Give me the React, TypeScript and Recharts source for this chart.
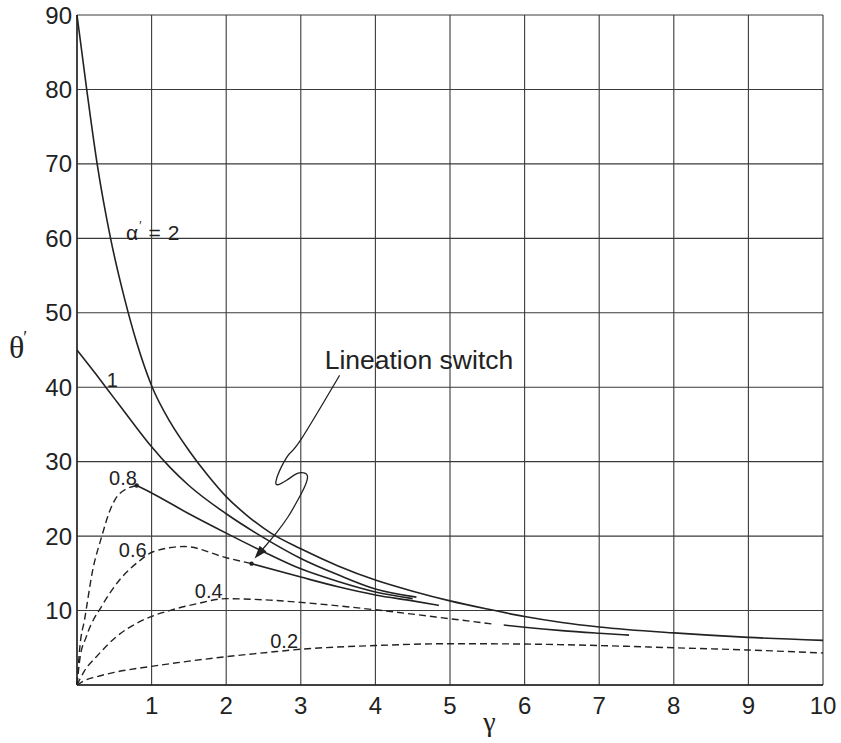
import React from 'react';
import { LineChart, Line, XAxis, YAxis, CartesianGrid, ReferenceDot } from 'recharts';

type Pt = [number, number];

// [gamma, theta'] pairs
const alpha2: Pt[] = [
  [0, 90], [0.13, 80], [0.27, 70], [0.45, 60], [0.64, 51.8], [0.8, 46.0], [1, 40.2],
  [1.25, 35.3], [1.5, 31.5], [1.75, 28.2], [2, 25.3], [2.3, 22.6], [2.6, 20.4], [3, 18.3],
  [3.5, 16.0], [4, 14.1], [4.5, 12.6], [5, 11.3], [5.5, 10.2], [6, 9.2], [6.5, 8.4],
  [7, 7.8], [8, 7.0], [9, 6.4], [10, 6.0],
];
const alpha1: Pt[] = [
  [0, 45], [0.25, 41.8], [0.5, 38.5], [0.75, 35.2], [1, 32.0], [1.25, 29.2], [1.5, 26.8],
  [2, 23.0], [2.5, 19.8], [3, 17.0], [3.5, 14.8], [4, 12.9], [4.55, 11.8],
];
const alpha08Dashed: Pt[] = [
  [0, 0], [0.04, 5.3], [0.1, 8.7], [0.21, 15.4], [0.33, 19.9], [0.44, 23.4], [0.57, 25.7],
  [0.8, 26.8],
];
const alpha08Solid: Pt[] = [
  [0.8, 26.8], [1, 25.8], [1.5, 23.0], [2, 20.4], [2.5, 17.9], [3, 15.6], [3.5, 13.9],
  [4, 12.5], [4.5, 11.6],
];
const alpha06Dashed: Pt[] = [
  [0, 0], [0.04, 3.6], [0.125, 6.5], [0.35, 10.9], [0.57, 14.1], [0.84, 16.7], [1.02, 17.9],
  [1.44, 18.6], [2, 17.1], [2.34, 16.3],
];
const alpha06Solid: Pt[] = [
  [2.34, 16.3], [3, 14.5], [3.5, 13.2], [4, 12.1], [4.5, 11.3], [4.85, 10.7],
];
const alpha04Dashed: Pt[] = [
  [0, 0], [0.1, 1.9], [0.26, 3.8], [0.53, 6.5], [0.84, 8.5], [1.05, 9.4], [1.24, 10.0],
  [1.6, 10.9], [2, 11.6], [2.58, 11.4], [3, 11.1], [4, 10.1], [5, 8.9], [5.6, 8.15],
];
const alpha04Solid: Pt[] = [
  [5.72, 8.05], [6, 7.75], [6.5, 7.3], [7, 6.95], [7.4, 6.7],
];
const alpha02Dashed: Pt[] = [
  [0, 0], [0.1, 0.6], [0.26, 1.1], [0.5, 1.7], [1, 2.5], [1.5, 3.2], [2, 3.8], [2.58, 4.4],
  [3, 4.8], [4, 5.3], [5, 5.55], [6, 5.5], [7, 5.3], [8, 5.0], [9, 4.7], [10, 4.3],
];

const switchPoints: Pt[] = [[0.8, 26.8], [2.34, 16.3]];

// hand-drawn arrow from the annotation to the switch point
const arrowPath: Pt[] = [
  [3.52, 41.6], [3.01, 33.1], [2.85, 31.1], [2.74, 29.3], [2.67, 27.5], [2.69, 26.9],
  [2.81, 27.5], [2.94, 28.35], [3.04, 28.5], [3.09, 28.0], [3.05, 26.6], [2.96, 24.85],
  [2.83, 22.6], [2.67, 20.4], [2.52, 18.6], [2.45, 17.8],
];
const arrowTip: Pt = [2.38, 17.0];

const curveLabels: { text: string; at: Pt }[] = [
  { text: '1', at: [0.4, 40.0] },
  { text: '0.8', at: [0.43, 26.9] },
  { text: '0.6', at: [0.56, 17.2] },
  { text: '0.4', at: [1.58, 11.7] },
  { text: '0.2', at: [2.59, 5.0] },
];

const xTicks = [0, 1, 2, 3, 4, 5, 6, 7, 8, 9, 10];
const yTicks = [0, 10, 20, 30, 40, 50, 60, 70, 80, 90];

const INK = '#222';
const SANS = '"Liberation Sans", Arial, sans-serif';
const SERIF = '"Liberation Serif", "DejaVu Serif", serif';

const toRows = (pts: Pt[]) => pts.map(([x, y]) => ({ x, y }));
const hideZero = (v: number) => (v === 0 ? '' : String(v));

function textShape(text: string, size: number) {
  return (p: any) => (
    <text x={p.cx} y={p.cy} fontSize={size} fill={INK} fontFamily={SANS}>
      {text}
    </text>
  );
}

function alphaLabel(p: any) {
  return (
    <text x={p.cx} y={p.cy} fontSize={21} fill={INK} fontFamily={SANS}>
      α<tspan dx={1} dy={-10} fontSize={12}>′</tspan>
      <tspan dx={7} dy={10}>=</tspan>
      <tspan dx={7}>2</tspan>
    </text>
  );
}

function arrowHead(p: any) {
  // pointing down-left, along the last stretch of the arrow
  const ang = Math.atan2(11.6, -10);
  const bx = -Math.cos(ang);
  const by = -Math.sin(ang);
  const len = 13;
  const half = 4.5;
  const cx = p.cx;
  const cy = p.cy;
  const mx = cx + bx * len;
  const my = cy + by * len;
  const pts = [
    [cx, cy],
    [mx - by * half, my + bx * half],
    [mx + by * half, my - bx * half],
  ]
    .map((q) => q.join(','))
    .join(' ');
  return <polygon points={pts} fill={INK} />;
}

function YTitle(props: any) {
  const vb = props.viewBox;
  return (
    <text x={vb.x + 9} y={vb.y + vb.height / 2 + 8} fontSize={32} fill={INK} fontFamily={SERIF}>
      θ<tspan dx={-1} dy={-14} fontSize={18}>′</tspan>
    </text>
  );
}

function XTitle(props: any) {
  const vb = props.viewBox;
  return (
    <text
      x={vb.x + vb.width * 0.553}
      y={vb.y + 46}
      textAnchor="middle"
      fontSize={28}
      fill={INK}
      fontFamily={SERIF}
    >
      γ
    </text>
  );
}

export default function App() {
  const solid = { stroke: INK, strokeWidth: 1.6, dot: false, activeDot: false, isAnimationActive: false } as const;
  const dashed = { ...solid, strokeWidth: 1.4, strokeDasharray: '7 4' };

  return (
    <div style={{ position: 'absolute', left: 0, top: 0, background: '#fff' }}>
      <LineChart
        width={841}
        height={743}
        margin={{ top: 15, right: 18, left: 0, bottom: 0 }}
        style={{ fontFamily: SANS }}
      >
        <CartesianGrid stroke="#3a3a3a" strokeWidth={1.1} />
        <XAxis
          type="number"
          dataKey="x"
          domain={[0, 10]}
          ticks={xTicks}
          tickFormatter={hideZero}
          height={58}
          tickLine={false}
          tickSize={6}
          tickMargin={6}
          axisLine={{ stroke: INK, strokeWidth: 1.4 }}
          tick={{ fontSize: 24, fill: INK }}
          label={<XTitle />}
        />
        <YAxis
          type="number"
          domain={[0, 90]}
          ticks={yTicks}
          tickFormatter={hideZero}
          width={77}
          tickLine={false}
          tickSize={3}
          tickMargin={2}
          axisLine={{ stroke: INK, strokeWidth: 1.4 }}
          tick={{ fontSize: 24, fill: INK }}
          label={<YTitle />}
        />

        <Line {...solid} data={toRows(alpha2)} dataKey="y" type="monotone" />
        <Line {...solid} data={toRows(alpha1)} dataKey="y" type="monotone" />
        <Line {...dashed} data={toRows(alpha08Dashed)} dataKey="y" type="monotone" />
        <Line {...solid} data={toRows(alpha08Solid)} dataKey="y" type="monotone" />
        <Line {...dashed} data={toRows(alpha06Dashed)} dataKey="y" type="monotone" />
        <Line {...solid} data={toRows(alpha06Solid)} dataKey="y" type="monotone" />
        <Line {...dashed} data={toRows(alpha04Dashed)} dataKey="y" type="monotone" />
        <Line {...solid} data={toRows(alpha04Solid)} dataKey="y" type="monotone" />
        <Line {...dashed} data={toRows(alpha02Dashed)} dataKey="y" type="monotone" />
        <Line {...solid} strokeWidth={1.3} data={toRows(arrowPath)} dataKey="y" type="natural" />

        {switchPoints.map(([x, y], i) => (
          <ReferenceDot key={'s' + i} x={x} y={y} r={2.2} fill={INK} stroke="none" />
        ))}
        <ReferenceDot x={arrowTip[0]} y={arrowTip[1]} shape={arrowHead} />
        {curveLabels.map((l) => (
          <ReferenceDot key={l.text} x={l.at[0]} y={l.at[1]} shape={textShape(l.text, 20)} />
        ))}
        <ReferenceDot x={0.657} y={59.8} shape={alphaLabel} />
        <ReferenceDot x={3.32} y={42.45} shape={textShape('Lineation switch', 26.5)} />
      </LineChart>
    </div>
  );
}
